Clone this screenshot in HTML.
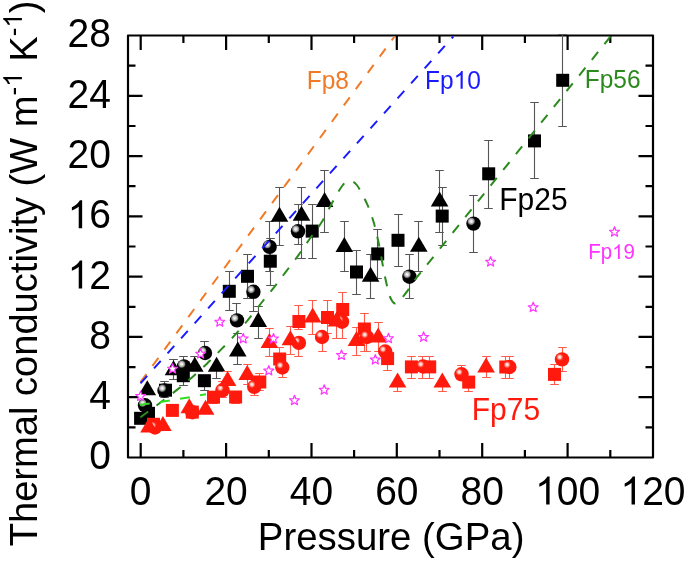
<!DOCTYPE html><html><head><meta charset="utf-8"><style>html,body{margin:0;padding:0;background:#fff;}svg{display:block;will-change:transform;}text{font-family:"Liberation Sans",sans-serif;}</style></head><body>
<svg width="685" height="561" viewBox="0 0 685 561">
<defs>
<radialGradient id="bg" cx="0.34" cy="0.34" r="0.5" fx="0.34" fy="0.34">
<stop offset="0" stop-color="#fff"/><stop offset="0.2" stop-color="#ddd"/><stop offset="0.42" stop-color="#888"/><stop offset="0.55" stop-color="#111"/><stop offset="0.65" stop-color="#000"/><stop offset="1" stop-color="#000"/></radialGradient>
<radialGradient id="rg" cx="0.34" cy="0.34" r="0.5" fx="0.34" fy="0.34">
<stop offset="0" stop-color="#fff4f4"/><stop offset="0.18" stop-color="#ffd0c8"/><stop offset="0.36" stop-color="#ff6050"/><stop offset="0.5" stop-color="#ff1a0d"/><stop offset="1" stop-color="#ff1a0d"/></radialGradient>
</defs>
<rect width="685" height="561" fill="#fff"/>
<rect x="128" y="35.5" width="525" height="422.0" fill="none" stroke="#000" stroke-width="2.2" stroke-linejoin="round"/>
<path d="M140.7 457.5V443.0M140.7 35.5V50.0M183.4 457.5V450.0M183.4 35.5V43.0M226.1 457.5V443.0M226.1 35.5V50.0M268.8 457.5V450.0M268.8 35.5V43.0M311.5 457.5V443.0M311.5 35.5V50.0M354.1 457.5V450.0M354.1 35.5V43.0M396.8 457.5V443.0M396.8 35.5V50.0M439.5 457.5V450.0M439.5 35.5V43.0M482.2 457.5V443.0M482.2 35.5V50.0M524.9 457.5V450.0M524.9 35.5V43.0M567.6 457.5V443.0M567.6 35.5V50.0M610.3 457.5V450.0M610.3 35.5V43.0M128 427.4H135.5M653 427.4H645.5M128 397.2H142.5M653 397.2H638.5M128 367.1H135.5M653 367.1H645.5M128 336.9H142.5M653 336.9H638.5M128 306.8H135.5M653 306.8H645.5M128 276.7H142.5M653 276.7H638.5M128 246.5H135.5M653 246.5H645.5M128 216.4H142.5M653 216.4H638.5M128 186.2H135.5M653 186.2H645.5M128 156.1H142.5M653 156.1H638.5M128 126.0H135.5M653 126.0H645.5M128 95.8H142.5M653 95.8H638.5M128 65.7H135.5M653 65.7H645.5" stroke="#000" stroke-width="2.2" fill="none"/>
<g stroke="#555" stroke-width="1.1" fill="none"><path d="M183.5 375.7V356.5M179.2 356.5H187.8"/><path d="M183.5 375.7V385.5M179.2 385.5H187.8"/><path d="M204.5 380.7V390.5M200.2 390.5H208.8"/><path d="M229.5 291.3V271.5M225.2 271.5H233.8"/><path d="M229.5 291.3V310.5M225.2 310.5H233.8"/><path d="M247.5 276.3V254.5M243.2 254.5H251.8"/><path d="M247.5 276.3V298.5M243.2 298.5H251.8"/><path d="M270.5 261.2V238.5M266.2 238.5H274.8"/><path d="M270.5 261.2V285.5M266.2 285.5H274.8"/><path d="M312.5 231.1V204.5M308.2 204.5H316.8"/><path d="M312.5 231.1V258.5M308.2 258.5H316.8"/><path d="M356.5 272.0V250.5M352.2 250.5H360.8"/><path d="M356.5 272.0V294.5M352.2 294.5H360.8"/><path d="M377.5 253.9V229.5M373.2 229.5H381.8"/><path d="M377.5 253.9V278.5M373.2 278.5H381.8"/><path d="M398.5 240.3V214.5M394.2 214.5H402.8"/><path d="M398.5 240.3V266.5M394.2 266.5H402.8"/><path d="M442.5 216.1V187.5M438.2 187.5H446.8"/><path d="M442.5 216.1V245.5M438.2 245.5H446.8"/><path d="M488.5 173.8V140.5M484.2 140.5H492.8"/><path d="M488.5 173.8V208.5M484.2 208.5H492.8"/><path d="M534.5 140.9V102.5M530.2 102.5H538.8"/><path d="M534.5 140.9V178.5M530.2 178.5H538.8"/><path d="M562.5 80.3V34.5M558.2 34.5H566.8"/><path d="M562.5 80.3V126.5M558.2 126.5H566.8"/></g>
<g stroke="#555" stroke-width="1.1" fill="none"><path d="M173.5 369.2V359.5M169.2 359.5H177.8"/><path d="M173.5 369.2V379.5M169.2 379.5H177.8"/><path d="M194.5 365.7V356.5M190.2 356.5H198.8"/><path d="M216.5 365.7V378.5M212.2 378.5H220.8"/><path d="M237.5 350.5V333.5M233.2 333.5H241.8"/><path d="M237.5 350.5V364.5M233.2 364.5H241.8"/><path d="M258.5 321.0V306.5M254.2 306.5H262.8"/><path d="M258.5 321.0V338.5M254.2 338.5H262.8"/><path d="M279.5 215.7V187.5M275.2 187.5H283.8"/><path d="M279.5 215.7V245.5M275.2 245.5H283.8"/><path d="M301.5 214.8V187.5M297.2 187.5H305.8"/><path d="M301.5 214.8V258.5M297.2 258.5H305.8"/><path d="M324.5 200.9V170.5M320.2 170.5H328.8"/><path d="M324.5 200.9V232.5M320.2 232.5H328.8"/><path d="M344.5 245.9V221.5M340.2 221.5H348.8"/><path d="M344.5 245.9V271.5M340.2 271.5H348.8"/><path d="M370.5 275.7V254.5M366.2 254.5H374.8"/><path d="M370.5 275.7V298.5M366.2 298.5H374.8"/><path d="M418.5 245.8V221.5M414.2 221.5H422.8"/><path d="M418.5 245.8V271.5M414.2 271.5H422.8"/><path d="M439.5 200.4V170.5M435.2 170.5H443.8"/><path d="M439.5 200.4V232.5M435.2 232.5H443.8"/></g>
<g stroke="#555" stroke-width="1.1" fill="none"><path d="M164.5 390.5V381.5M160.2 381.5H168.8"/><path d="M164.5 390.5V397.5M160.2 397.5H168.8"/><path d="M204.5 353.0V341.5M200.2 341.5H208.8"/><path d="M236.5 320.4V303.5M232.2 303.5H240.8"/><path d="M253.5 291.8V311.5M249.2 311.5H257.8"/><path d="M269.5 246.9V221.5M265.2 221.5H273.8"/><path d="M269.5 246.9V271.5M265.2 271.5H273.8"/><path d="M298.5 231.3V204.5M294.2 204.5H302.8"/><path d="M298.5 231.3V244.5M294.2 244.5H302.8"/><path d="M409.5 276.7V254.5M405.2 254.5H413.8"/><path d="M409.5 276.7V298.5M405.2 298.5H413.8"/><path d="M473.5 223.6V195.5M469.2 195.5H477.8"/><path d="M473.5 223.6V252.5M469.2 252.5H477.8"/></g>
<g fill="#000"><rect x="134.1" y="411.8" width="13.0" height="13.0"/><rect x="142.0" y="406.8" width="13.0" height="13.0"/><rect x="159.0" y="383.7" width="13.0" height="13.0"/><rect x="176.8" y="369.2" width="13.0" height="13.0"/><rect x="197.9" y="374.2" width="13.0" height="13.0"/><rect x="222.8" y="284.8" width="13.0" height="13.0"/><rect x="241.0" y="269.8" width="13.0" height="13.0"/><rect x="263.8" y="254.7" width="13.0" height="13.0"/><rect x="305.7" y="224.6" width="13.0" height="13.0"/><rect x="350.0" y="265.5" width="13.0" height="13.0"/><rect x="371.2" y="247.4" width="13.0" height="13.0"/><rect x="391.5" y="233.8" width="13.0" height="13.0"/><rect x="435.7" y="209.6" width="13.0" height="13.0"/><rect x="482.2" y="167.3" width="13.0" height="13.0"/><rect x="528.0" y="134.4" width="13.0" height="13.0"/><rect x="556.2" y="73.8" width="13.0" height="13.0"/></g>
<circle cx="145.0" cy="405.3" r="7.2" fill="url(#bg)"/><circle cx="164.5" cy="390.5" r="7.2" fill="url(#bg)"/><circle cx="184.0" cy="366.4" r="7.2" fill="url(#bg)"/><circle cx="205.0" cy="353.0" r="7.2" fill="url(#bg)"/><circle cx="237.0" cy="320.4" r="7.2" fill="url(#bg)"/><circle cx="253.4" cy="291.8" r="7.2" fill="url(#bg)"/><circle cx="269.6" cy="246.9" r="7.2" fill="url(#bg)"/><circle cx="298.0" cy="231.3" r="7.2" fill="url(#bg)"/><circle cx="409.4" cy="276.7" r="7.2" fill="url(#bg)"/><circle cx="473.5" cy="223.6" r="7.2" fill="url(#bg)"/>
<g fill="#000"><path d="M147.3 380.2L156.1 395.2L138.5 395.2Z"/><path d="M173.5 360.2L182.3 375.2L164.7 375.2Z"/><path d="M194.8 356.7L203.6 371.7L186.0 371.7Z"/><path d="M216.6 356.7L225.4 371.7L207.8 371.7Z"/><path d="M237.8 341.5L246.6 356.5L229.0 356.5Z"/><path d="M258.3 312.0L267.1 327.0L249.5 327.0Z"/><path d="M279.5 206.7L288.3 221.7L270.7 221.7Z"/><path d="M301.5 205.8L310.3 220.8L292.7 220.8Z"/><path d="M324.6 191.9L333.4 206.9L315.8 206.9Z"/><path d="M344.3 236.9L353.1 251.9L335.5 251.9Z"/><path d="M370.6 266.7L379.4 281.7L361.8 281.7Z"/><path d="M418.8 236.8L427.6 251.8L410.0 251.8Z"/><path d="M439.6 191.4L448.4 206.4L430.8 206.4Z"/></g>
<path d="M140.5 382.2L394.5 36.5" stroke="#f07a26" stroke-width="2" stroke-dasharray="10 10.2" fill="none"/>
<path d="M140.5 383.3L453.3 36.5" stroke="#1a1aff" stroke-width="2" stroke-dasharray="10 10.2" fill="none"/>
<path d="M140.3 417.4 C141.0 416.9 141.6 416.4 144.6 414.2 C147.6 412.0 153.1 408.1 158.5 404.0 C163.9 399.9 171.3 394.3 176.9 389.9 C182.5 385.5 186.9 381.9 191.9 377.5 C196.9 373.1 202.0 368.4 206.9 363.7 C211.8 359.0 216.5 354.2 221.2 349.4 C225.9 344.6 230.9 339.5 235.2 334.7 C239.5 329.9 242.8 326.1 247.2 320.8 C251.5 315.5 256.8 308.6 261.3 303.0 C265.8 297.4 269.9 292.7 274.0 287.4 C278.1 282.1 282.1 276.7 286.2 271.3 C290.3 265.9 294.6 260.5 298.5 255.1 C302.4 249.7 305.8 244.4 309.6 239.0 C313.4 233.6 317.6 228.7 321.3 222.8 C325.0 216.9 328.4 209.5 331.8 203.4 C335.2 197.3 339.0 190.3 341.8 186.5 C344.6 182.7 346.2 181.1 348.7 180.8 C351.2 180.6 353.7 181.0 356.8 185.0 C359.9 189.0 364.5 198.4 367.4 204.7 C370.2 211.0 372.1 216.8 373.9 223.0 C375.7 229.2 377.0 235.4 378.4 241.7 C379.8 248.0 380.8 254.4 382.0 261.0 C383.2 267.6 384.5 274.8 385.9 281.0 C387.3 287.2 388.8 294.3 390.5 298.0 C392.2 301.7 393.5 304.1 396.0 303.3 C398.5 302.6 401.9 297.9 405.5 293.5 C409.1 289.1 413.1 282.3 417.3 276.7 C421.6 271.1 425.6 266.6 431.0 259.9 C436.4 253.1 446.8 240.1 450.0 236.2 L610.5 36.5" stroke="#2a8a1c" stroke-width="2" stroke-dasharray="10 10.2" fill="none"/>
<path d="M140 404.8 C160 402.3 185 398.2 206 394.2" stroke="#33dd22" stroke-width="2" stroke-dasharray="10 10.2" fill="none"/>
<g stroke="#ff5a4a" stroke-width="1.1" fill="none"><path d="M213.5 397.2V403.5M209.2 403.5H217.8"/><path d="M235.5 397.0V403.5M231.2 403.5H239.8"/><path d="M259.5 382.0V373.5M255.2 373.5H263.8"/><path d="M259.5 382.0V390.5M255.2 390.5H263.8"/><path d="M279.5 359.0V347.5M275.2 347.5H283.8"/><path d="M298.5 321.5V305.5M294.2 305.5H302.8"/><path d="M298.5 321.5V329.5M294.2 329.5H302.8"/><path d="M327.5 317.5V300.5M323.2 300.5H331.8"/><path d="M327.5 317.5V333.5M323.2 333.5H331.8"/><path d="M342.5 309.5V292.5M338.2 292.5H346.8"/><path d="M342.5 309.5V338.5M338.2 338.5H346.8"/><path d="M364.5 329.0V313.5M360.2 313.5H368.8"/><path d="M364.5 329.0V351.5M360.2 351.5H368.8"/><path d="M387.5 358.6V370.5M383.2 370.5H391.8"/><path d="M411.5 366.9V356.5M407.2 356.5H415.8"/><path d="M411.5 366.9V378.5M407.2 378.5H415.8"/><path d="M429.5 366.9V356.5M425.2 356.5H433.8"/><path d="M429.5 366.9V378.5M425.2 378.5H433.8"/><path d="M468.5 382.1V391.5M464.2 391.5H472.8"/><path d="M505.5 367.0V356.5M501.2 356.5H509.8"/><path d="M505.5 367.0V378.5M501.2 378.5H509.8"/><path d="M554.5 374.4V364.5M550.2 364.5H558.8"/><path d="M554.5 374.4V384.5M550.2 384.5H558.8"/></g>
<g stroke="#ff5a4a" stroke-width="1.1" fill="none"><path d="M227.5 380.0V371.5M223.2 371.5H231.8"/><path d="M247.5 374.0V364.5M243.2 364.5H251.8"/><path d="M247.5 374.0V384.5M243.2 384.5H251.8"/><path d="M269.5 342.1V328.5M265.2 328.5H273.8"/><path d="M269.5 342.1V356.5M265.2 356.5H273.8"/><path d="M290.5 339.3V326.5M286.2 326.5H294.8"/><path d="M290.5 339.3V354.5M286.2 354.5H294.8"/><path d="M312.5 316.6V300.5M308.2 300.5H316.8"/><path d="M312.5 316.6V334.5M308.2 334.5H316.8"/><path d="M336.5 320.4V338.5M332.2 338.5H340.8"/><path d="M356.5 340.0V327.5M352.2 327.5H360.8"/><path d="M356.5 340.0V355.5M352.2 355.5H360.8"/><path d="M378.5 336.6V322.5M374.2 322.5H382.8"/><path d="M378.5 336.6V351.5M374.2 351.5H382.8"/><path d="M397.5 381.4V391.5M393.2 391.5H401.8"/><path d="M442.5 381.4V391.5M438.2 391.5H446.8"/><path d="M486.5 366.5V356.5M482.2 356.5H490.8"/><path d="M486.5 366.5V377.5M482.2 377.5H490.8"/></g>
<g stroke="#ff5a4a" stroke-width="1.1" fill="none"><path d="M222.5 390.3V381.5M218.2 381.5H226.8"/><path d="M222.5 390.3V397.5M218.2 397.5H226.8"/><path d="M254.5 386.8V395.5M250.2 395.5H258.8"/><path d="M282.5 367.5V377.5M278.2 377.5H286.8"/><path d="M298.5 342.9V356.5M294.2 356.5H302.8"/><path d="M322.5 337.0V351.5M318.2 351.5H326.8"/><path d="M366.5 337.0V351.5M362.2 351.5H370.8"/><path d="M422.5 366.5V356.5M418.2 356.5H426.8"/><path d="M422.5 366.5V378.5M418.2 378.5H426.8"/><path d="M461.5 374.3V365.5M457.2 365.5H465.8"/><path d="M509.5 367.0V356.5M505.2 356.5H513.8"/><path d="M509.5 367.0V378.5M505.2 378.5H513.8"/><path d="M562.5 359.4V347.5M558.2 347.5H566.8"/><path d="M562.5 359.4V371.5M558.2 371.5H566.8"/></g>
<g fill="#ff1a0d"><rect x="147.0" y="417.8" width="13.0" height="13.0"/><rect x="165.9" y="403.9" width="13.0" height="13.0"/><rect x="207.0" y="390.7" width="13.0" height="13.0"/><rect x="229.1" y="390.5" width="13.0" height="13.0"/><rect x="253.3" y="375.5" width="13.0" height="13.0"/><rect x="273.2" y="352.5" width="13.0" height="13.0"/><rect x="292.4" y="315.0" width="13.0" height="13.0"/><rect x="321.0" y="311.0" width="13.0" height="13.0"/><rect x="336.2" y="303.0" width="13.0" height="13.0"/><rect x="357.9" y="322.5" width="13.0" height="13.0"/><rect x="381.1" y="352.1" width="13.0" height="13.0"/><rect x="404.9" y="360.4" width="13.0" height="13.0"/><rect x="423.2" y="360.4" width="13.0" height="13.0"/><rect x="462.2" y="375.6" width="13.0" height="13.0"/><rect x="499.3" y="360.5" width="13.0" height="13.0"/><rect x="548.0" y="367.9" width="13.0" height="13.0"/></g>
<circle cx="155.0" cy="427.5" r="7.2" fill="url(#rg)"/><circle cx="192.3" cy="412.2" r="7.2" fill="url(#rg)"/><circle cx="222.5" cy="390.3" r="7.2" fill="url(#rg)"/><circle cx="254.2" cy="386.8" r="7.2" fill="url(#rg)"/><circle cx="282.3" cy="367.5" r="7.2" fill="url(#rg)"/><circle cx="298.9" cy="342.9" r="7.2" fill="url(#rg)"/><circle cx="322.0" cy="337.0" r="7.2" fill="url(#rg)"/><circle cx="342.0" cy="321.7" r="7.2" fill="url(#rg)"/><circle cx="367.0" cy="337.0" r="7.2" fill="url(#rg)"/><circle cx="385.2" cy="351.5" r="7.2" fill="url(#rg)"/><circle cx="423.0" cy="366.5" r="7.2" fill="url(#rg)"/><circle cx="461.5" cy="374.3" r="7.2" fill="url(#rg)"/><circle cx="509.4" cy="367.0" r="7.2" fill="url(#rg)"/><circle cx="562.0" cy="359.4" r="7.2" fill="url(#rg)"/>
<g fill="#ff1a0d"><rect x="185.8" y="405.6" width="13.0" height="13.0"/></g>
<g fill="#ff1a0d"><path d="M149.0 417.5L157.8 432.5L140.2 432.5Z"/><path d="M162.9 416.1L171.7 431.1L154.1 431.1Z"/><path d="M189.3 398.3L198.1 413.3L180.5 413.3Z"/><path d="M205.6 399.8L214.4 414.8L196.8 414.8Z"/><path d="M227.6 371.0L236.4 386.0L218.8 386.0Z"/><path d="M247.2 365.0L256.0 380.0L238.4 380.0Z"/><path d="M269.4 333.1L278.2 348.1L260.6 348.1Z"/><path d="M290.4 330.3L299.2 345.3L281.6 345.3Z"/><path d="M312.7 307.6L321.5 322.6L303.9 322.6Z"/><path d="M336.5 311.4L345.3 326.4L327.7 326.4Z"/><path d="M356.5 331.0L365.3 346.0L347.7 346.0Z"/><path d="M378.2 327.6L387.0 342.6L369.4 342.6Z"/><path d="M397.6 372.4L406.4 387.4L388.8 387.4Z"/><path d="M442.3 372.4L451.1 387.4L433.5 387.4Z"/><path d="M486.1 357.5L494.9 372.5L477.3 372.5Z"/></g>
<g fill="#fff" stroke="#ff33ff" stroke-width="1.2" stroke-linejoin="round"><polygon points="140.60,391.00 141.92,394.38 145.55,394.59 142.74,396.90 143.66,400.41 140.60,398.45 137.54,400.41 138.46,396.90 135.65,394.59 139.28,394.38"/><polygon points="172.60,363.70 173.92,367.08 177.55,367.29 174.74,369.60 175.66,373.11 172.60,371.15 169.54,373.11 170.46,369.60 167.65,367.29 171.28,367.08"/><polygon points="200.60,348.70 201.92,352.08 205.55,352.29 202.74,354.60 203.66,358.11 200.60,356.15 197.54,358.11 198.46,354.60 195.65,352.29 199.28,352.08"/><polygon points="219.80,316.80 221.12,320.18 224.75,320.39 221.94,322.70 222.86,326.21 219.80,324.25 216.74,326.21 217.66,322.70 214.85,320.39 218.48,320.18"/><polygon points="243.20,333.50 244.52,336.88 248.15,337.09 245.34,339.40 246.26,342.91 243.20,340.95 240.14,342.91 241.06,339.40 238.25,337.09 241.88,336.88"/><polygon points="273.50,333.50 274.82,336.88 278.45,337.09 275.64,339.40 276.56,342.91 273.50,340.95 270.44,342.91 271.36,339.40 268.55,337.09 272.18,336.88"/><polygon points="268.80,365.60 270.12,368.98 273.75,369.19 270.94,371.50 271.86,375.01 268.80,373.05 265.74,375.01 266.66,371.50 263.85,369.19 267.48,368.98"/><polygon points="294.50,395.30 295.82,398.68 299.45,398.89 296.64,401.20 297.56,404.71 294.50,402.75 291.44,404.71 292.36,401.20 289.55,398.89 293.18,398.68"/><polygon points="324.20,384.80 325.52,388.18 329.15,388.39 326.34,390.70 327.26,394.21 324.20,392.25 321.14,394.21 322.06,390.70 319.25,388.39 322.88,388.18"/><polygon points="341.50,350.00 342.82,353.38 346.45,353.59 343.64,355.90 344.56,359.41 341.50,357.45 338.44,359.41 339.36,355.90 336.55,353.59 340.18,353.38"/><polygon points="375.30,354.60 376.62,357.98 380.25,358.19 377.44,360.50 378.36,364.01 375.30,362.05 372.24,364.01 373.16,360.50 370.35,358.19 373.98,357.98"/><polygon points="388.50,333.30 389.82,336.68 393.45,336.89 390.64,339.20 391.56,342.71 388.50,340.75 385.44,342.71 386.36,339.20 383.55,336.89 387.18,336.68"/><polygon points="423.60,331.90 424.92,335.28 428.55,335.49 425.74,337.80 426.66,341.31 423.60,339.35 420.54,341.31 421.46,337.80 418.65,335.49 422.28,335.28"/><polygon points="490.60,256.70 491.92,260.08 495.55,260.29 492.74,262.60 493.66,266.11 490.60,264.15 487.54,266.11 488.46,262.60 485.65,260.29 489.28,260.08"/><polygon points="533.20,302.20 534.52,305.58 538.15,305.79 535.34,308.10 536.26,311.61 533.20,309.65 530.14,311.61 531.06,308.10 528.25,305.79 531.88,305.58"/><polygon points="614.50,226.80 615.82,230.18 619.45,230.39 616.64,232.70 617.56,236.21 614.50,234.25 611.44,236.21 612.36,232.70 609.55,230.39 613.18,230.18"/></g>
<g transform="translate(0 469.40)"><text x="89.31" y="0" font-size="39" fill="#000" transform="scale(1 1.035)" xml:space="preserve">0</text></g><g transform="translate(0 409.12)"><text x="89.31" y="0" font-size="39" fill="#000" transform="scale(1 1.035)" xml:space="preserve">4</text></g><g transform="translate(0 348.84)"><text x="89.31" y="0" font-size="39" fill="#000" transform="scale(1 1.035)" xml:space="preserve">8</text></g><g transform="translate(0 288.56)"><path d="M763 0H583V1147Q518 1085 415 1024Q312 963 223 930V1104Q374 1175 487 1276Q600 1377 647 1472H763Z" fill="#000" transform="translate(67.62 0) scale(0.01904 -0.01904)"/><text x="89.31" y="0" font-size="39" fill="#000" transform="scale(1 1.035)" xml:space="preserve">2</text></g><g transform="translate(0 228.28)"><path d="M763 0H583V1147Q518 1085 415 1024Q312 963 223 930V1104Q374 1175 487 1276Q600 1377 647 1472H763Z" fill="#000" transform="translate(67.62 0) scale(0.01904 -0.01904)"/><text x="89.31" y="0" font-size="39" fill="#000" transform="scale(1 1.035)" xml:space="preserve">6</text></g><g transform="translate(0 168.00)"><text x="67.62" y="0" font-size="39" fill="#000" transform="scale(1 1.035)" xml:space="preserve">20</text></g><g transform="translate(0 107.72)"><text x="67.62" y="0" font-size="39" fill="#000" transform="scale(1 1.035)" xml:space="preserve">24</text></g><g transform="translate(0 47.14)"><text x="67.62" y="0" font-size="39" fill="#000" transform="scale(1 1.035)" xml:space="preserve">28</text></g><g transform="translate(0 504.50)"><text x="129.86" y="0" font-size="39" fill="#000" transform="scale(1 1.035)" xml:space="preserve">0</text></g><g transform="translate(0 504.50)"><text x="204.39" y="0" font-size="39" fill="#000" transform="scale(1 1.035)" xml:space="preserve">20</text></g><g transform="translate(0 504.50)"><text x="289.77" y="0" font-size="39" fill="#000" transform="scale(1 1.035)" xml:space="preserve">40</text></g><g transform="translate(0 504.50)"><text x="375.15" y="0" font-size="39" fill="#000" transform="scale(1 1.035)" xml:space="preserve">60</text></g><g transform="translate(0 504.50)"><text x="460.53" y="0" font-size="39" fill="#000" transform="scale(1 1.035)" xml:space="preserve">80</text></g><g transform="translate(0 504.50)"><path d="M763 0H583V1147Q518 1085 415 1024Q312 963 223 930V1104Q374 1175 487 1276Q600 1377 647 1472H763Z" fill="#000" transform="translate(535.07 0) scale(0.01904 -0.01904)"/><text x="556.76" y="0" font-size="39" fill="#000" transform="scale(1 1.035)" xml:space="preserve">00</text></g><g transform="translate(0 504.50)"><path d="M763 0H583V1147Q518 1085 415 1024Q312 963 223 930V1104Q374 1175 487 1276Q600 1377 647 1472H763Z" fill="#000" transform="translate(620.45 0) scale(0.01904 -0.01904)"/><text x="642.14" y="0" font-size="39" fill="#000" transform="scale(1 1.035)" xml:space="preserve">20</text></g><g transform="translate(0 550.30)"><text x="257.83" y="0" font-size="38.4" fill="#000" transform="scale(1 1.035)" xml:space="preserve">Pressure (GPa)</text></g><g transform="translate(37.2 546.3) rotate(-90)"><g transform="translate(0 0)"><text x="0.00" y="0" font-size="38.1" fill="#000" transform="scale(1 1.035)" xml:space="preserve">Thermal conductivity (W m</text></g><g transform="translate(0 -15.3)"><text x="450.93" y="0" font-size="26" fill="#000" transform="scale(1 1.035)" xml:space="preserve">-</text><path d="M763 0H583V1147Q518 1085 415 1024Q312 963 223 930V1104Q374 1175 487 1276Q600 1377 647 1472H763Z" fill="#000" transform="translate(459.59 0) scale(0.01270 -0.01270)"/></g><g transform="translate(0 0)"><text x="474.05" y="0" font-size="38.1" fill="#000" transform="scale(1 1.035)" xml:space="preserve"> K</text></g><g transform="translate(0 -15.3)"><text x="510.05" y="0" font-size="26" fill="#000" transform="scale(1 1.035)" xml:space="preserve">-</text><path d="M763 0H583V1147Q518 1085 415 1024Q312 963 223 930V1104Q374 1175 487 1276Q600 1377 647 1472H763Z" fill="#000" transform="translate(518.70 0) scale(0.01270 -0.01270)"/></g><g transform="translate(0 0)"><text x="533.16" y="0" font-size="38.1" fill="#000" transform="scale(1 1.035)" xml:space="preserve">)</text></g></g>
<g transform="translate(0 89.00)"><text x="306.70" y="0" font-size="24.5" fill="#f07a26" transform="scale(1 1.035)" xml:space="preserve">Fp8</text></g>
<g transform="translate(0 88.70)"><text x="425.00" y="0" font-size="24.5" fill="#1a1aff" transform="scale(1 1.035)" xml:space="preserve">Fp</text><path d="M763 0H583V1147Q518 1085 415 1024Q312 963 223 930V1104Q374 1175 487 1276Q600 1377 647 1472H763Z" fill="#1a1aff" transform="translate(453.59 0) scale(0.01196 -0.01196)"/><text x="467.22" y="0" font-size="24.5" fill="#1a1aff" transform="scale(1 1.035)" xml:space="preserve">0</text></g>
<g transform="translate(0 88.10)"><text x="584.70" y="0" font-size="24.5" fill="#2a8a1c" transform="scale(1 1.035)" xml:space="preserve">Fp56</text></g>
<g transform="translate(0 210.30)"><text x="499.30" y="0" font-size="30" fill="#000" transform="scale(1 1.035)" xml:space="preserve">Fp25</text></g>
<g transform="translate(0 259.00)"><text x="588.20" y="0" font-size="20.5" fill="#ff33ff" transform="scale(1 1.035)" xml:space="preserve">Fp</text><path d="M763 0H583V1147Q518 1085 415 1024Q312 963 223 930V1104Q374 1175 487 1276Q600 1377 647 1472H763Z" fill="#ff33ff" transform="translate(612.12 0) scale(0.01001 -0.01001)"/><text x="623.52" y="0" font-size="20.5" fill="#ff33ff" transform="scale(1 1.035)" xml:space="preserve">9</text></g>
<g transform="translate(0 420.00)"><text x="471.80" y="0" font-size="30" fill="#ff1a0d" transform="scale(1 1.035)" xml:space="preserve">Fp75</text></g>
</svg></body></html>
